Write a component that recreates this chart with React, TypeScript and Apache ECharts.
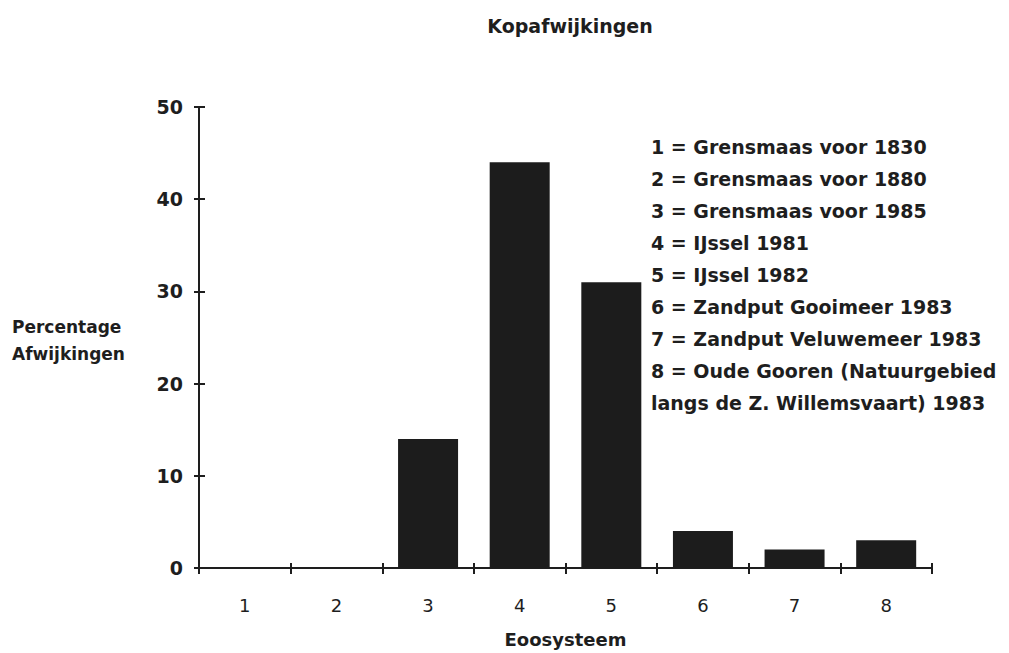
import React, { useEffect, useRef } from "react";
import * as echarts from "echarts";

const categories = ["1", "2", "3", "4", "5", "6", "7", "8"];
const values = [0, 0, 14, 44, 31, 4, 2, 3];
const legendLines = [
  "1 = Grensmaas voor 1830",
  "2 = Grensmaas voor 1880",
  "3 = Grensmaas voor 1985",
  "4 = IJssel 1981",
  "5 = IJssel 1982",
  "6 = Zandput Gooimeer 1983",
  "7 = Zandput Veluwemeer 1983",
  "8 = Oude Gooren (Natuurgebied",
  "langs de Z. Willemsvaart) 1983",
];
const titleText = "Kopafwijkingen";
const xName = "Eoosysteem";
const yNameLines = ["Percentage", "Afwijkingen"];

const FONT = "DejaVu Sans";
const INK = "#1e1e1e";

export default function App() {
  const ref = useRef<HTMLDivElement>(null);
  useEffect(() => {
    document.body.style.margin = "0";
    const chart = echarts.init(ref.current!, null, { renderer: "svg" });
    const axisLine = { show: true, lineStyle: { color: INK, width: 2 } };
    const baseX = {
      type: "category" as const,
      data: categories,
      boundaryGap: true,
      axisLine,
      splitLine: { show: false },
    };
    const baseY = {
      type: "value" as const,
      min: 0,
      max: 50,
      interval: 10,
      axisLine,
      splitLine: { show: false },
    };
    chart.setOption({
      animation: false,
      backgroundColor: "#ffffff",
      title: {
        text: titleText,
        left: 565,
        top: 11,
        textAlign: "center",
        textStyle: { fontFamily: FONT, fontSize: 19, fontWeight: "bold", color: INK },
      },
      grid: { left: 199, right: 77, top: 107, bottom: 84 },
      xAxis: [
        {
          ...baseX,
          position: "bottom",
          axisTick: { show: true, inside: false, length: 6, lineStyle: { color: INK, width: 2 } },
          axisLabel: { margin: 28, fontFamily: FONT, fontSize: 18, color: INK },
          name: xName,
          nameLocation: "middle",
          nameGap: 62,
          nameTextStyle: { fontFamily: FONT, fontSize: 18, fontWeight: "bold", color: INK },
        },
        {
          ...baseX,
          position: "bottom",
          axisTick: { show: true, inside: true, length: 5, lineStyle: { color: INK, width: 2 } },
          axisLabel: { show: false },
        },
      ],
      yAxis: [
        {
          ...baseY,
          position: "left",
          axisTick: { show: true, inside: false, length: 5, lineStyle: { color: INK, width: 2 } },
          axisLabel: { margin: 16, fontFamily: FONT, fontSize: 19, fontWeight: "bold", color: INK },
        },
        {
          ...baseY,
          position: "left",
          axisTick: { show: true, inside: true, length: 6, lineStyle: { color: INK, width: 2 } },
          axisLabel: { show: false },
        },
      ],
      series: [
        {
          type: "bar",
          data: values,
          xAxisIndex: 0,
          yAxisIndex: 0,
          barWidth: 60,
          itemStyle: { color: "#1c1c1c" },
        },
      ],
      graphic: [
        {
          type: "text",
          left: 12,
          top: 313,
          style: {
            text: yNameLines.join("\n"),
            fontFamily: FONT,
            fontSize: 17,
            fontWeight: "bold",
            lineHeight: 27,
            fill: INK,
          },
        },
        {
          type: "text",
          left: 651,
          top: 131,
          style: {
            text: legendLines.join("\n"),
            fontFamily: FONT,
            fontSize: 19,
            fontWeight: "bold",
            lineHeight: 32,
            fill: INK,
          },
        },
      ],
    });
    return () => chart.dispose();
  }, []);
  return <div ref={ref} style={{ width: 1009, height: 653 }} />;
}
